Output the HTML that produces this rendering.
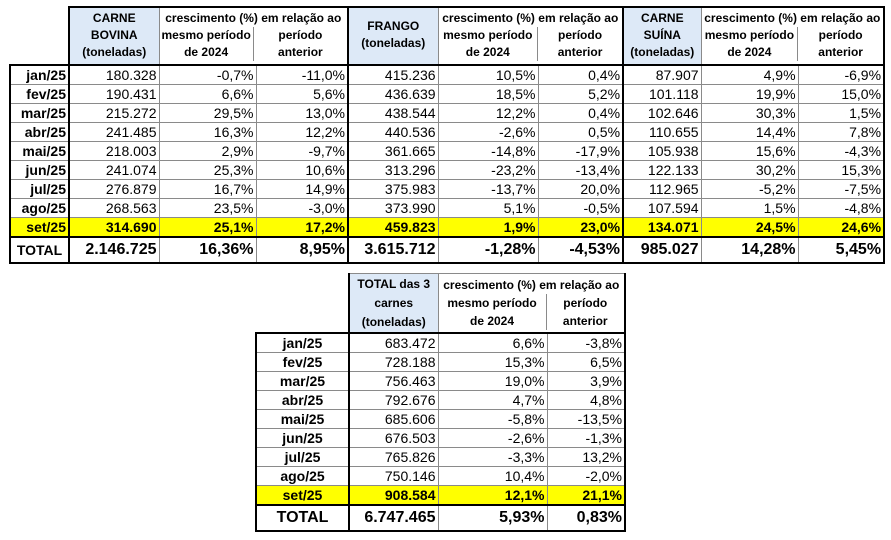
<!DOCTYPE html>
<html><head><meta charset="utf-8"><style>
body{margin:0;width:891px;height:540px;background:#fff;position:relative;overflow:hidden;font-family:"Liberation Sans",sans-serif;color:#000}
table{position:absolute;border-collapse:collapse;table-layout:fixed}
td{padding:0 2px;font-size:14px;white-space:nowrap;border:1px solid #8a8a8a;height:18px;line-height:16px}
td.h{font-size:12px;font-weight:bold;text-align:center;line-height:17px;vertical-align:top;padding-top:2px;border:none}
td.blue{background:#dde9f7}
td.l{font-weight:bold;text-align:right;border-left:2px solid #000;border-right:2px solid #000}
td.n{text-align:right}
td.c{text-align:center}
.y td{background:#ffff00;font-weight:bold}
.t td{font-size:16px;font-weight:bold;height:24px;border-top:2px solid #000;border-bottom:2px solid #000}
.t td.l{font-size:14px}
.k{border-right:2px solid #000!important}
.hk{border-left:2px solid #000!important}
</style></head><body>

<table style="left:9px;top:6px;width:874px">
<colgroup><col style="width:59px"><col style="width:90px"><col style="width:97px"><col style="width:92px"><col style="width:90px"><col style="width:100px"><col style="width:85px"><col style="width:78px"><col style="width:97px"><col style="width:86px"></colgroup>
<tr style="height:58px">
<td style="border:none"></td>
<td class="h blue hk" style="border-top:2px solid #000;border-right:1px solid #8a8a8a">CARNE<br>BOVINA<br>(toneladas)</td>
<td class="h" colspan="2" style="border-top:2px solid #000;border-right:2px solid #000;padding:0"><div style="padding-top:2px">crescimento (%) em relação ao</div><div style="display:flex"><div style="width:50%;border-right:1px solid #8a8a8a">mesmo período<br>de 2024</div><div style="width:50%">período<br>anterior</div></div></td>
<td class="h blue" style="border-top:2px solid #000;padding-top:10px">FRANGO<br>(toneladas)</td>
<td class="h" colspan="2" style="border-top:2px solid #000;border-left:1px solid #8a8a8a;border-right:2px solid #000;padding:0"><div style="padding-top:2px">crescimento (%) em relação ao</div><div style="display:flex"><div style="width:54%;border-right:1px solid #8a8a8a">mesmo período<br>de 2024</div><div style="width:46%">período<br>anterior</div></div></td>
<td class="h blue" style="border-top:2px solid #000">CARNE<br>SUÍNA<br>(toneladas)</td>
<td class="h" colspan="2" style="border-top:2px solid #000;border-left:1px solid #8a8a8a;border-right:2px solid #000;padding:0"><div style="padding-top:2px">crescimento (%) em relação ao</div><div style="display:flex"><div style="width:53%;border-right:1px solid #8a8a8a">mesmo período<br>de 2024</div><div style="width:47%">período<br>anterior</div></div></td>
</tr>
<tr><td class="l" style="border-top:2px solid #000">jan/25</td><td class="n" style="border-top:2px solid #000">180.328</td><td class="n" style="border-top:2px solid #000">-0,7%</td><td class="n k" style="border-top:2px solid #000">-11,0%</td><td class="n" style="border-top:2px solid #000">415.236</td><td class="n" style="border-top:2px solid #000">10,5%</td><td class="n k" style="border-top:2px solid #000">0,4%</td><td class="n" style="border-top:2px solid #000">87.907</td><td class="n" style="border-top:2px solid #000">4,9%</td><td class="n k" style="border-top:2px solid #000">-6,9%</td></tr>
<tr><td class="l">fev/25</td><td class="n">190.431</td><td class="n">6,6%</td><td class="n k">5,6%</td><td class="n">436.639</td><td class="n">18,5%</td><td class="n k">5,2%</td><td class="n">101.118</td><td class="n">19,9%</td><td class="n k">15,0%</td></tr>
<tr><td class="l">mar/25</td><td class="n">215.272</td><td class="n">29,5%</td><td class="n k">13,0%</td><td class="n">438.544</td><td class="n">12,2%</td><td class="n k">0,4%</td><td class="n">102.646</td><td class="n">30,3%</td><td class="n k">1,5%</td></tr>
<tr><td class="l">abr/25</td><td class="n">241.485</td><td class="n">16,3%</td><td class="n k">12,2%</td><td class="n">440.536</td><td class="n">-2,6%</td><td class="n k">0,5%</td><td class="n">110.655</td><td class="n">14,4%</td><td class="n k">7,8%</td></tr>
<tr><td class="l">mai/25</td><td class="n">218.003</td><td class="n">2,9%</td><td class="n k">-9,7%</td><td class="n">361.665</td><td class="n">-14,8%</td><td class="n k">-17,9%</td><td class="n">105.938</td><td class="n">15,6%</td><td class="n k">-4,3%</td></tr>
<tr><td class="l">jun/25</td><td class="n">241.074</td><td class="n">25,3%</td><td class="n k">10,6%</td><td class="n">313.296</td><td class="n">-23,2%</td><td class="n k">-13,4%</td><td class="n">122.133</td><td class="n">30,2%</td><td class="n k">15,3%</td></tr>
<tr><td class="l">jul/25</td><td class="n">276.879</td><td class="n">16,7%</td><td class="n k">14,9%</td><td class="n">375.983</td><td class="n">-13,7%</td><td class="n k">20,0%</td><td class="n">112.965</td><td class="n">-5,2%</td><td class="n k">-7,5%</td></tr>
<tr><td class="l">ago/25</td><td class="n">268.563</td><td class="n">23,5%</td><td class="n k">-3,0%</td><td class="n">373.990</td><td class="n">5,1%</td><td class="n k">-0,5%</td><td class="n">107.594</td><td class="n">1,5%</td><td class="n k">-4,8%</td></tr>
<tr class="y"><td class="l">set/25</td><td class="n">314.690</td><td class="n">25,1%</td><td class="n k">17,2%</td><td class="n">459.823</td><td class="n">1,9%</td><td class="n k">23,0%</td><td class="n">134.071</td><td class="n">24,5%</td><td class="n k">24,6%</td></tr>
<tr class="t"><td class="l" style="text-align:center">TOTAL</td><td class="n">2.146.725</td><td class="n">16,36%</td><td class="n k">8,95%</td><td class="n">3.615.712</td><td class="n">-1,28%</td><td class="n k">-4,53%</td><td class="n">985.027</td><td class="n">14,28%</td><td class="n k">5,45%</td></tr>
</table>

<table style="left:255px;top:273px;width:369px">
<colgroup><col style="width:93px"><col style="width:89px"><col style="width:109px"><col style="width:78px"></colgroup>
<tr style="height:58px">
<td style="border:none"></td>
<td class="h blue hk" style="border-top:1px solid #8a8a8a;font-size:12px;line-height:19px;padding-top:1px">TOTAL das 3<br>carnes<br>(toneladas)</td>
<td class="h" colspan="2" style="border-top:1px solid #8a8a8a;border-left:1px solid #8a8a8a;border-right:2px solid #000;padding:0"><div style="padding-top:2px;line-height:18px">crescimento (%) em relação ao</div><div style="display:flex;line-height:18px"><div style="width:58%;border-right:1px solid #8a8a8a">mesmo período<br>de 2024</div><div style="width:42%">período<br>anterior</div></div></td>
</tr>
<tr><td class="l c" style="border-top:2px solid #000;text-align:center">jan/25</td><td class="n" style="border-top:2px solid #000">683.472</td><td class="n" style="border-top:2px solid #000">6,6%</td><td class="n k" style="border-top:2px solid #000">-3,8%</td></tr>
<tr><td class="l" style="text-align:center">fev/25</td><td class="n">728.188</td><td class="n">15,3%</td><td class="n k">6,5%</td></tr>
<tr><td class="l" style="text-align:center">mar/25</td><td class="n">756.463</td><td class="n">19,0%</td><td class="n k">3,9%</td></tr>
<tr><td class="l" style="text-align:center">abr/25</td><td class="n">792.676</td><td class="n">4,7%</td><td class="n k">4,8%</td></tr>
<tr><td class="l" style="text-align:center">mai/25</td><td class="n">685.606</td><td class="n">-5,8%</td><td class="n k">-13,5%</td></tr>
<tr><td class="l" style="text-align:center">jun/25</td><td class="n">676.503</td><td class="n">-2,6%</td><td class="n k">-1,3%</td></tr>
<tr><td class="l" style="text-align:center">jul/25</td><td class="n">765.826</td><td class="n">-3,3%</td><td class="n k">13,2%</td></tr>
<tr><td class="l" style="text-align:center">ago/25</td><td class="n">750.146</td><td class="n">10,4%</td><td class="n k">-2,0%</td></tr>
<tr class="y"><td class="l" style="text-align:center">set/25</td><td class="n">908.584</td><td class="n">12,1%</td><td class="n k">21,1%</td></tr>
<tr class="t"><td class="l" style="text-align:center;font-size:16px">TOTAL</td><td class="n">6.747.465</td><td class="n">5,93%</td><td class="n k">0,83%</td></tr>
</table>
</body></html>
